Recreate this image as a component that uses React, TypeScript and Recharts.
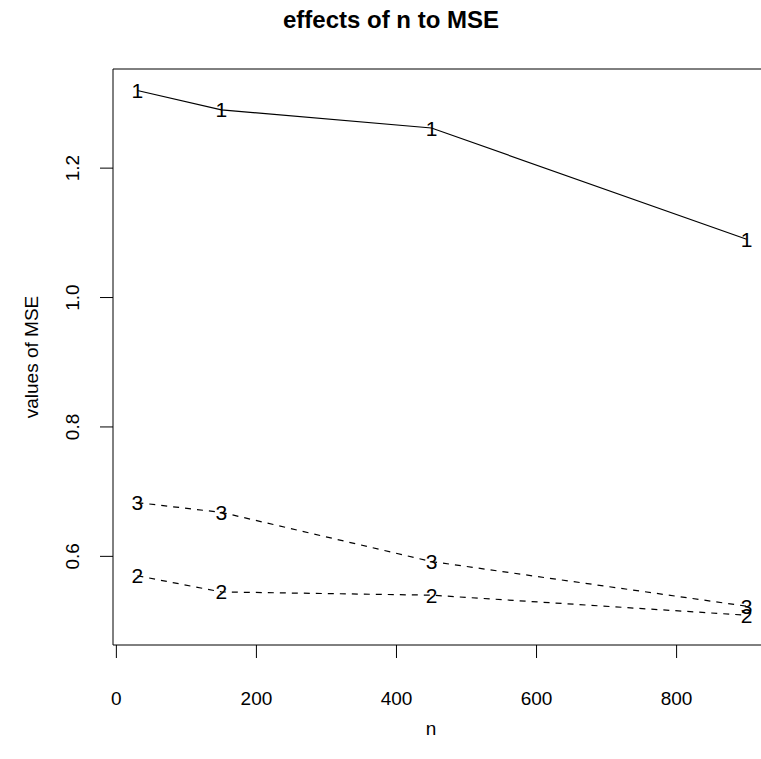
import React from 'react'
import { LineChart, Line, XAxis, YAxis, ReferenceLine, Label } from 'recharts'

const nValues = [30, 150, 450, 900]
const mse1 = [1.32, 1.29, 1.262, 1.09]
const mse2 = [0.57, 0.545, 0.54, 0.509]
const mse3 = [0.683, 0.668, 0.592, 0.523]
const xTicks = [0, 200, 400, 600, 800]
const yTicks = [0.6, 0.8, 1.0, 1.2]

const data = nValues.map((n, i) => ({ n, s1: mse1[i], s2: mse2[i], s3: mse3[i] }))

const FONT = '"Liberation Sans", Arial, Helvetica, sans-serif'

// R-style type="b" plotting characters: the series number drawn at each point
const charDot = (ch: string) => (props: any) => {
  const { cx, cy, index } = props
  return (
    <text
      key={`${ch}-${index}`}
      x={cx}
      y={cy}
      textAnchor="middle"
      dominantBaseline="central"
      fontSize={21}
      fontFamily={FONT}
      fill="#000"
    >
      {ch}
    </text>
  )
}

const XTick = (props: any) => {
  const { x, y, payload } = props
  return (
    <text x={x} y={y + 38} textAnchor="middle" dominantBaseline="central" fontSize={19} fontFamily={FONT} fill="#000">
      {payload.value}
    </text>
  )
}

const YTick = (props: any) => {
  const { x, y, payload } = props
  const cx = x - 25
  return (
    <text
      x={cx}
      y={y}
      transform={`rotate(-90, ${cx}, ${y})`}
      textAnchor="middle"
      dominantBaseline="central"
      fontSize={19}
      fontFamily={FONT}
      fill="#000"
    >
      {payload.value.toFixed(1)}
    </text>
  )
}

export default function App() {
  return (
    <div style={{ position: 'absolute', left: 0, top: 0, width: 761, height: 759, overflow: 'hidden', background: '#fff' }}>
      <div
        style={{
          position: 'absolute',
          left: 0,
          width: 782,
          top: 6,
          textAlign: 'center',
          fontFamily: FONT,
          fontWeight: 'bold',
          fontSize: 24,
        }}
      >
        effects of n to MSE
      </div>
      <div
        style={{
          position: 'absolute',
          left: 0,
          width: 862,
          top: 718,
          textAlign: 'center',
          fontFamily: FONT,
          fontSize: 19,
        }}
      >
        n
      </div>
      <LineChart width={800} height={759} data={data} margin={{ top: 69, right: 29, left: 0, bottom: 0 }}>
        <XAxis
          dataKey="n"
          type="number"
          domain={[-4.8, 934.8]}
          ticks={xTicks}
          tickSize={13}
          tick={<XTick />}
          height={114}
          stroke="#000"
          allowDataOverflow
        />
        <YAxis
          type="number"
          domain={[0.463, 1.3532]}
          ticks={yTicks}
          tickSize={13}
          tick={<YTick />}
          width={113}
          stroke="#000"
          allowDataOverflow
        >
          <Label value="values of MSE" angle={-90} position="insideLeft" offset={31} fontSize={19} fontFamily={FONT} fill="#000" style={{ textAnchor: 'middle' }} />
        </YAxis>
        <ReferenceLine y={1.3532} stroke="#000" />
        <Line dataKey="s1" stroke="#000" strokeWidth={1.2} dot={charDot('1')} isAnimationActive={false} />
        <Line dataKey="s2" stroke="#000" strokeWidth={1.2} strokeDasharray="6 6" dot={charDot('2')} isAnimationActive={false} />
        <Line dataKey="s3" stroke="#000" strokeWidth={1.2} strokeDasharray="6 6" dot={charDot('3')} isAnimationActive={false} />
      </LineChart>
    </div>
  )
}
